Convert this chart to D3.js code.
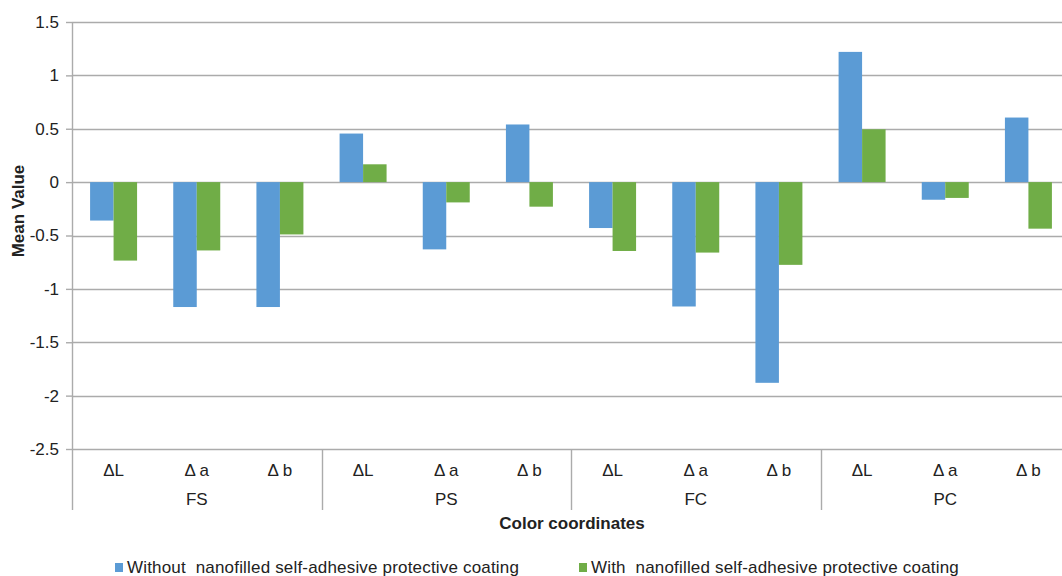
<!DOCTYPE html>
<html>
<head>
<meta charset="utf-8">
<script src="https://cdn.jsdelivr.net/npm/d3@7"></script>
<style>
  body { margin: 0; background: #fff; }
  text { font-family: "Liberation Sans", Arial, sans-serif; fill: #222; }
</style>
</head>
<body>
<div id="chart"></div>
<script>
const groups = ['FS', 'PS', 'FC', 'PC'];
const coords = ['ΔL', 'Δ a', 'Δ b'];
const seriesNames = [
  'Without  nanofilled self-adhesive protective coating',
  'With  nanofilled self-adhesive protective coating'
];
// values in order FS(ΔL, Δa, Δb), PS(...), FC(...), PC(...)
const withoutValues = [-0.36, -1.17, -1.17, 0.455, -0.63, 0.54, -0.43, -1.165, -1.88, 1.22, -0.165, 0.605];
const withValues = [-0.735, -0.64, -0.49, 0.167, -0.19, -0.23, -0.645, -0.66, -0.775, 0.495, -0.148, -0.436];
const yTicks = [1.5, 1, 0.5, 0, -0.5, -1, -1.5, -2, -2.5];
const colors = ['#5b9bd5', '#70ad47'];

const width = 1062;
const height = 576;
const margin = { top: 22, left: 72, right: -8, bottom: 127 };
const fontSize = '17px';

const svg = d3.select('#chart')
  .append('svg')
  .attr('width', width)
  .attr('height', height);

// build rows from the small arrays
const rows = [];
groups.forEach((g, gi) => {
  coords.forEach((c, ci) => {
    const i = gi * coords.length + ci;
    rows.push({ key: i, group: g, coord: c, values: [withoutValues[i], withValues[i]] });
  });
});

const x0 = d3.scaleBand()
  .domain(rows.map(d => d.key))
  .range([margin.left, width - margin.right]);

const x1 = d3.scaleBand()
  .domain([0, 1])
  .range([0, x0.bandwidth()])
  .paddingOuter(0.77);

const y = d3.scaleLinear()
  .domain([-2.5, 1.5])
  .range([height - margin.bottom, margin.top]);

const gridColor = '#ababab';

// gridlines
svg.append('g')
  .selectAll('line')
  .data(yTicks)
  .join('line')
    .attr('x1', margin.left)
    .attr('x2', width)
    .attr('y1', d => Math.round(y(d)) + 0.5)
    .attr('y2', d => Math.round(y(d)) + 0.5)
    .attr('stroke', gridColor)
    .attr('stroke-width', 1.4);

// bars
svg.append('g')
  .selectAll('g')
  .data(rows)
  .join('g')
    .attr('transform', d => `translate(${x0(d.key)},0)`)
  .selectAll('rect')
  .data(d => d.values.map((v, s) => ({ v, s })))
  .join('rect')
    .attr('x', d => x1(d.s))
    .attr('width', x1.bandwidth())
    .attr('y', d => y(Math.max(0, d.v)))
    .attr('height', d => Math.abs(y(d.v) - y(0)))
    .attr('fill', d => colors[d.s]);

// y axis
const yAxis = svg.append('g')
  .attr('transform', `translate(${margin.left},0)`)
  .call(d3.axisLeft(y).tickValues(yTicks).tickSize(6).tickPadding(7)
    .tickFormat(d => String(d)));
yAxis.select('.domain').remove();
yAxis.selectAll('.tick line').attr('stroke', gridColor).attr('stroke-width', 1.4);
yAxis.selectAll('.tick text')
  .attr('font-size', fontSize)
  .attr('font-family', '"Liberation Sans", Arial, sans-serif')
  .attr('fill', '#222');

const axisBottom = y.range()[0];
const sepBottom = 510;

// left axis line, running down through the category area
svg.append('line')
  .attr('x1', margin.left + 0.5).attr('x2', margin.left + 0.5)
  .attr('y1', margin.top).attr('y2', sepBottom)
  .attr('stroke', gridColor).attr('stroke-width', 1.4);

// group separators
svg.append('g')
  .selectAll('line')
  .data(groups.slice(1))
  .join('line')
    .attr('x1', (d, i) => Math.round(x0((i + 1) * coords.length)) + 0.5)
    .attr('x2', (d, i) => Math.round(x0((i + 1) * coords.length)) + 0.5)
    .attr('y1', axisBottom)
    .attr('y2', sepBottom)
    .attr('stroke', gridColor)
    .attr('stroke-width', 1.4);

// category labels
svg.append('g')
  .selectAll('text')
  .data(rows)
  .join('text')
    .attr('x', d => x0(d.key) + x0.bandwidth() / 2)
    .attr('y', 476)
    .attr('text-anchor', 'middle')
    .attr('font-size', fontSize)
    .text(d => d.coord);

// group labels
svg.append('g')
  .selectAll('text')
  .data(groups)
  .join('text')
    .attr('x', (d, i) => x0(i * coords.length + 1) + x0.bandwidth() / 2)
    .attr('y', 505)
    .attr('text-anchor', 'middle')
    .attr('font-size', fontSize)
    .text(d => d);

// axis titles
svg.append('text')
  .attr('x', 572)
  .attr('y', 529)
  .attr('text-anchor', 'middle')
  .attr('font-size', fontSize)
  .attr('font-weight', 'bold')
  .text('Color coordinates');

svg.append('text')
  .attr('transform', 'translate(24,211) rotate(-90)')
  .attr('text-anchor', 'middle')
  .attr('font-size', fontSize)
  .attr('font-weight', 'bold')
  .text('Mean Value');

// legend
const legendX = [115, 579];
const legend = svg.append('g')
  .selectAll('g')
  .data(seriesNames)
  .join('g')
    .attr('transform', (d, i) => `translate(${legendX[i]},563)`);

legend.append('rect')
  .attr('width', 8)
  .attr('height', 9)
  .attr('fill', (d, i) => colors[i]);

legend.append('text')
  .attr('x', 12)
  .attr('y', 10)
  .attr('font-size', fontSize)
  .attr('letter-spacing', '0.18px')
  .style('white-space', 'pre')
  .text(d => d);
</script>
</body>
</html>
